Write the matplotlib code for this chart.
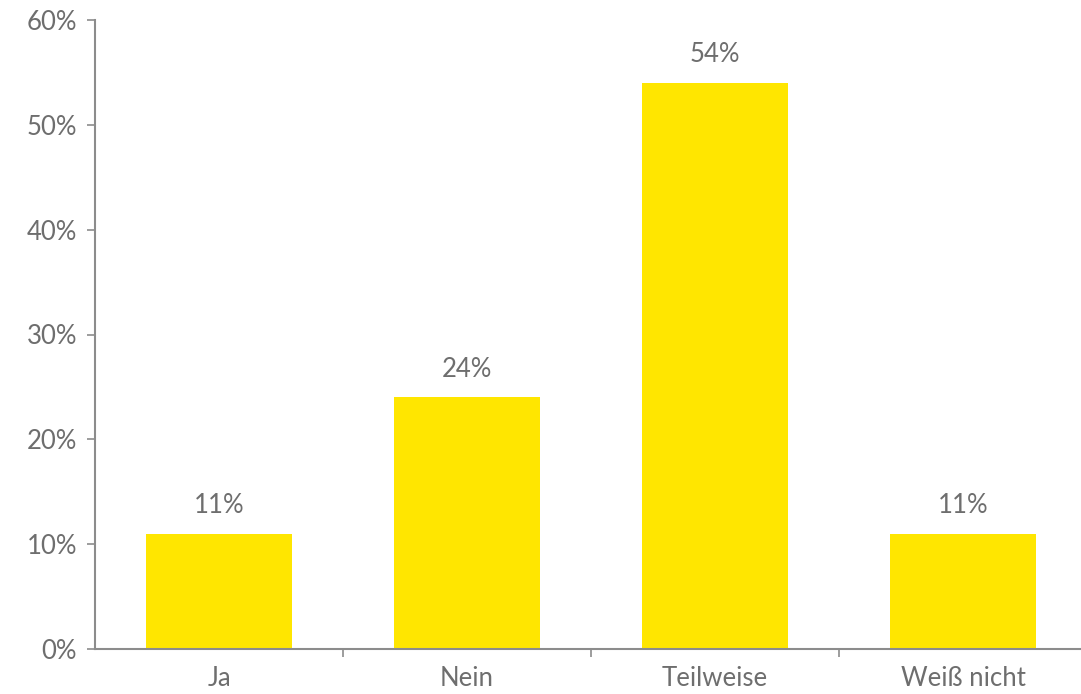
import matplotlib
matplotlib.use("Agg")
import matplotlib.pyplot as plt
from matplotlib.ticker import FixedLocator, PercentFormatter

categories = ["Ja", "Nein", "Teilweise", "Weiß nicht"]
values = [11, 24, 54, 11]
y_ticks = [0, 10, 20, 30, 40, 50, 60]

plt.rcParams["font.family"] = ["Lato", "DejaVu Sans"]

W, H = 1081, 694
fig = plt.figure(figsize=(W / 100, H / 100), dpi=100)
left, right, bottom, top = 95, 1087, 649, 20
ax = fig.add_axes([left / W, 1 - bottom / H, (right - left) / W, (bottom - top) / H])

text_color = "#6e6e6e"
axis_color = "#8c8c8c"
bar_color = "#FFE600"
fs = 18.5

x = list(range(len(categories)))
bars = ax.bar(x, values, width=0.59, color=bar_color, zorder=2)
for b, v in zip(bars, values):
    ax.text(b.get_x() + b.get_width() / 2, v + 1.5, f"{v}%", ha="center", va="bottom",
            fontsize=fs, color=text_color)

ax.set_xlim(-0.5, len(categories) - 0.5)
ax.set_ylim(0, 60)
ax.set_yticks(y_ticks)
ax.yaxis.set_major_formatter(PercentFormatter(decimals=0))

ax.set_xticks(x)
ax.set_xticklabels(categories)
ax.xaxis.set_minor_locator(FixedLocator([i + 0.5 for i in range(len(categories))]))
ax.tick_params(axis="x", which="major", length=0, pad=12, labelsize=fs, labelcolor=text_color)
ax.tick_params(axis="x", which="minor", length=6, width=1.2, color=axis_color, direction="out")
ax.tick_params(axis="y", length=6, width=1.2, color=axis_color, pad=7, labelsize=fs,
               labelcolor=text_color)

for s in ["top", "right"]:
    ax.spines[s].set_visible(False)
for s in ["left", "bottom"]:
    ax.spines[s].set_color(axis_color)
    ax.spines[s].set_linewidth(1.5)
ax.spines["bottom"].set_zorder(3)

fig.savefig("out.png", dpi=100)
